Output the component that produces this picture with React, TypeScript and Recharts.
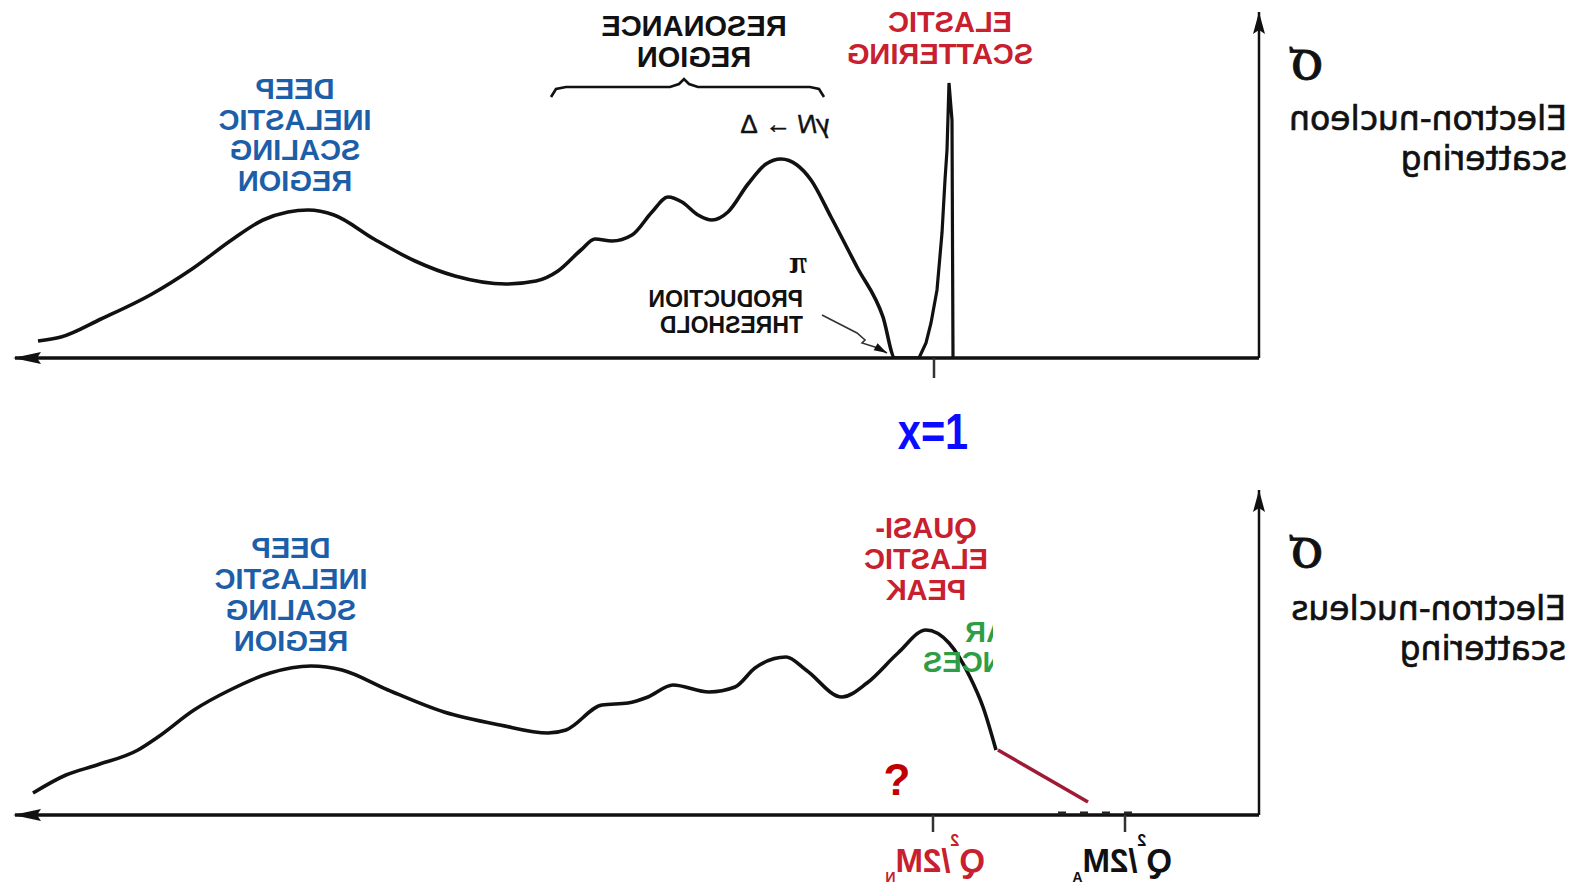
import React from "react";
import { LineChart, Line, XAxis, YAxis, ReferenceLine, ReferenceDot } from "recharts";

// Energy-loss axis runs right-to-left from the sigma axis; units are arbitrary.
// Electron-nucleon spectrum (continuum part)
const nucleonX = [1221, 1198, 1158, 1107, 1067, 1026, 996, 971, 951, 925, 885, 844, 804, 753, 723, 701, 678, 664, 647, 627, 607, 591, 577, 561, 547, 531, 511, 493, 478, 462, 448, 428, 402, 376, 364, 340];
const nucleonY = [17, 21, 39, 64, 89, 119, 138, 146, 148, 143, 119, 97, 82, 74, 77, 87, 108, 119, 117, 123, 146, 161, 156, 143, 138, 146, 174, 194, 199, 193, 178, 141, 91, 41, 0, 0];

// Elastic peak
const elasticX = [340, 333, 328, 322, 317, 314, 312, 310, 307, 306];
const elasticY = [0, 15, 35, 68, 125, 178, 208, 275, 238, 0];

// Brace over the resonance region
const braceX = [708, 703, 693, 589, 580, 575, 570, 561, 449, 440, 435];
const braceY = [261, 269, 271, 271, 274, 279, 274, 271, 271, 269, 261];

// Pointer to the pion production threshold
const pointerX = [437, 402, 394, 397, 381, 372];
const pointerY = [43, 25, 18, 15, 10, 5];

// Electron-nucleus spectrum
const nucleusX = [1226, 1193, 1162, 1121, 1101, 1065, 1029, 989, 948, 917, 871, 815, 759, 711, 693, 657, 631, 611, 586, 550, 524, 504, 473, 453, 417, 392, 361, 333, 310, 289, 276, 263];
const nucleusY = [22, 40, 50, 65, 78, 105, 125, 142, 149, 145, 125, 103, 90, 82, 85, 110, 112, 118, 130, 123, 128, 147, 158, 145, 118, 132, 162, 185, 172, 138, 108, 65];

// Unknown tail beyond the quasi-elastic peak
const tailX = [261, 171];
const tailY = [65, 13];
const dashX = [201, 119];
const dashY = [2, 2];

// Tick positions
const xOneTick = 325;
const qTicks = [326, 134];

const X_MAX = 1244;
const TOP_Y_MAX = 346;
const BOT_Y_MAX = 325;

const zip = (xs: number[], ys: number[]) => xs.map((x, i) => ({ x, y: ys[i] }));

const INK = "#111";
const BLUE = "#1d5ea8";
const RED = "#c8202f";
const GREEN = "#2f9d46";
const SANS = "'Liberation Sans', Arial, sans-serif";
const WIDE = "'DejaVu Sans', sans-serif";
const SERIF = "'Liberation Serif', serif";

const leftArrow = ({ cx, cy }: any) => (
  <path d={`M${cx - 2},${cy} L${cx + 26},${cy - 6} L${cx + 22},${cy} L${cx + 26},${cy + 6} Z`} fill={INK} />
);
const upArrow = ({ cx, cy }: any) => (
  <path d={`M${cx},${cy} L${cx - 6},${cy + 22} L${cx},${cy + 18} L${cx + 6},${cy + 22} Z`} fill={INK} />
);
const pointerHead = ({ cx, cy }: any) => (
  <path transform={`rotate(29 ${cx} ${cy})`} d={`M${cx},${cy} L${cx - 13},${cy - 4} L${cx - 13},${cy + 4} Z`} fill={INK} />
);

// mirrored text: anchor "start" puts x at the right edge on screen
function Mirror({ x, y, anchor = "middle", size = 29, weight = "bold", fill = INK, family = SANS, stroke, children }: any) {
  return (
    <g transform={`translate(${x} ${y}) scale(-1 1)`}>
      <text
        x={0}
        y={0}
        textAnchor={anchor}
        fontSize={size}
        fontWeight={weight}
        fill={fill}
        fontFamily={family}
        stroke={stroke ? fill : undefined}
        strokeWidth={stroke}
      >
        {children}
      </text>
    </g>
  );
}

function Block({ x, y0, step, lines, fill }: any) {
  return (
    <>
      {lines.map((t: string, i: number) => (
        <Mirror key={t} x={x} y={y0 + i * step} fill={fill}>
          {t}
        </Mirror>
      ))}
    </>
  );
}

function Label({ x, y, color, sub }: any) {
  return (
    <Mirror x={x} y={y} anchor="start" size={33} fill={color}>
      Q<tspan fontSize={16} dy={-26}>2</tspan>
      <tspan dy={26}>/2M</tspan>
      <tspan fontSize={14} dy={10}>{sub}</tspan>
    </Mirror>
  );
}

export default function App() {
  return (
    <div style={{ position: "absolute", left: 0, top: 0, width: 1585, height: 886, background: "#fff" }}>
      {/* electron-nucleon panel */}
      <div style={{ position: "absolute", left: 0, top: 0 }}>
        <LineChart width={1585} height={443} margin={{ top: 12, right: 326, bottom: 85, left: 15 }}>
          <XAxis dataKey="x" type="number" domain={[0, X_MAX]} reversed hide allowDataOverflow />
          <YAxis type="number" domain={[0, TOP_Y_MAX]} orientation="right" hide allowDataOverflow />
          <ReferenceLine y={0} stroke={INK} strokeWidth={3.5} />
          <ReferenceLine x={0} stroke={INK} strokeWidth={2.5} />
          <ReferenceLine
            segment={[{ x: xOneTick, y: 0 }, { x: xOneTick, y: -20 }]}
            stroke="#333"
            strokeWidth={2.5}
            ifOverflow="visible"
          />
          <ReferenceDot x={X_MAX} y={0} ifOverflow="visible" shape={leftArrow} />
          <ReferenceDot x={0} y={TOP_Y_MAX} ifOverflow="visible" shape={upArrow} />
          <Line data={zip(nucleonX, nucleonY)} dataKey="y" type="monotone" dot={false} stroke={INK} strokeWidth={3.6} isAnimationActive={false} />
          <Line data={zip(elasticX, elasticY)} dataKey="y" type="linear" dot={false} stroke={INK} strokeWidth={3.2} isAnimationActive={false} />
          <Line data={zip(braceX, braceY)} dataKey="y" type="linear" dot={false} stroke={INK} strokeWidth={2.6} isAnimationActive={false} />
          <Line data={zip(pointerX, pointerY)} dataKey="y" type="linear" dot={false} stroke="#333" strokeWidth={1.6} isAnimationActive={false} />
          <ReferenceDot x={pointerX[pointerX.length - 1]} y={pointerY[pointerY.length - 1]} ifOverflow="visible" shape={pointerHead} />
        </LineChart>
      </div>

      {/* electron-nucleus panel */}
      <div style={{ position: "absolute", left: 0, top: 443 }}>
        <LineChart width={1585} height={443} margin={{ top: 47, right: 326, bottom: 71, left: 15 }}>
          <XAxis dataKey="x" type="number" domain={[0, X_MAX]} reversed hide allowDataOverflow />
          <YAxis type="number" domain={[0, BOT_Y_MAX]} orientation="right" hide allowDataOverflow />
          <ReferenceLine y={0} stroke={INK} strokeWidth={3.5} />
          <ReferenceLine x={0} stroke={INK} strokeWidth={2.5} />
          {qTicks.map((t) => (
            <ReferenceLine
              key={t}
              segment={[{ x: t, y: 0 }, { x: t, y: -17 }]}
              stroke="#333"
              strokeWidth={2.5}
              ifOverflow="visible"
            />
          ))}
          <ReferenceDot x={X_MAX} y={0} ifOverflow="visible" shape={leftArrow} />
          <ReferenceDot x={0} y={BOT_Y_MAX} ifOverflow="visible" shape={upArrow} />
          <Line data={zip(nucleusX, nucleusY)} dataKey="y" type="monotone" dot={false} stroke={INK} strokeWidth={3.6} isAnimationActive={false} />
          <Line data={zip(tailX, tailY)} dataKey="y" type="linear" dot={false} stroke="#9e1a35" strokeWidth={3.5} isAnimationActive={false} />
          <Line data={zip(dashX, dashY)} dataKey="y" type="linear" dot={false} stroke="#222" strokeWidth={3} strokeDasharray="8 14" isAnimationActive={false} />
        </LineChart>
      </div>

      {/* annotations */}
      <svg width={1585} height={886} style={{ position: "absolute", left: 0, top: 0, pointerEvents: "none" }}>
        <defs>
          <clipPath id="nuclearClip">
            <rect x={0} y={600} width={993} height={90} />
          </clipPath>
        </defs>

        <Block x={295} y0={99} step={30.5} lines={["DEEP", "INELASTIC", "SCALING", "REGION"]} fill={BLUE} />
        <Block x={694} y0={36} step={31} lines={["RESONANCE", "REGION"]} fill={INK} />
        <Mirror x={950} y={32} fill={RED}>ELASTIC</Mirror>
        <Mirror x={940} y={64} fill={RED}>SCATTERING</Mirror>
        <Mirror x={830} y={133} anchor="start" size={26} weight="normal" stroke={0.5}>
          <tspan fontStyle="italic">γN</tspan> → Δ
        </Mirror>
        <Mirror x={807} y={273} anchor="start" size={32} weight="bold" family={SERIF}>π</Mirror>
        <Mirror x={803} y={307} anchor="start" size={23}>PRODUCTION</Mirror>
        <Mirror x={803} y={333} anchor="start" size={23}>THRESHOLD</Mirror>

        <Mirror x={1306} y={79} size={64} weight="normal" family={SERIF} stroke={0.8}>σ</Mirror>
        <Mirror x={1567} y={130} anchor="start" size={33} weight="normal" family={WIDE} stroke={0.7}>Electron-nucleon</Mirror>
        <Mirror x={1567} y={170} anchor="start" size={33} weight="normal" family={WIDE} stroke={0.7}>scattering</Mirror>

        <g transform="translate(933 449) scale(0.83 1)">
          <text x={0} y={0} textAnchor="middle" fontSize={50} fontWeight="bold" fill="#0b0bff" fontFamily={SANS}>
            x=1
          </text>
        </g>

        <Block x={291} y0={558} step={31} lines={["DEEP", "INELASTIC", "SCALING", "REGION"]} fill={BLUE} />
        <Block x={926} y0={538} step={31} lines={["QUASI-", "ELASTIC", "PEAK"]} fill={RED} />
        <g clipPath="url(#nuclearClip)">
          <Mirror x={965} y={642} anchor="end" fill={GREEN}>NUCLEAR</Mirror>
          <Mirror x={923} y={672} anchor="end" fill={GREEN}>RESONANCES</Mirror>
        </g>
        <text x={897} y={795} textAnchor="middle" fontSize={44} fontWeight="bold" fill="#c00000" fontFamily={SANS}>
          ?
        </text>

        <Mirror x={1306} y={567} size={64} weight="normal" family={SERIF} stroke={0.8}>σ</Mirror>
        <Mirror x={1566} y={620} anchor="start" size={33} weight="normal" family={WIDE} stroke={0.7}>Electron-nucleus</Mirror>
        <Mirror x={1566} y={660} anchor="start" size={33} weight="normal" family={WIDE} stroke={0.7}>scattering</Mirror>

        <Label x={985} y={872} color={RED} sub="N" />
        <Label x={1172} y={872} color={INK} sub="A" />
      </svg>
    </div>
  );
}
